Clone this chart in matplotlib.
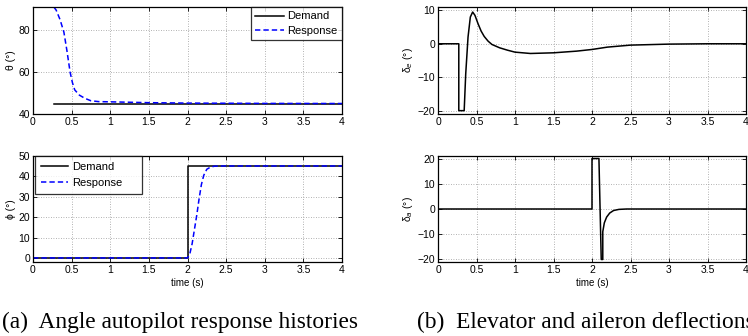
import matplotlib
matplotlib.use("Agg")
import matplotlib.pyplot as plt
import numpy as np

# ---------------- data ----------------
x_ticks = [0, 0.5, 1, 1.5, 2, 2.5, 3, 3.5, 4]
x_tick_labels = ["0", "0.5", "1", "1.5", "2", "2.5", "3", "3.5", "4"]

# (a) theta
theta_dem_t = [0.27, 4.0]
theta_dem = [45, 45]
theta_res_t = [0.27, 0.30, 0.35, 0.40, 0.44, 0.48, 0.51, 0.54, 0.60, 0.67, 0.75, 0.85, 1.0, 1.5, 2.0, 3.0, 4.0]
theta_res = [91, 89.5, 85, 79, 70, 60, 55, 51.5, 49, 47.5, 46.3, 45.9, 45.8, 45.4, 45.2, 45.05, 45.0]

# (a) phi
phi_dem_t = [0.0, 2.0, 2.0, 4.0]
phi_dem = [0, 0, 45, 45]
phi_res_t = [0.0, 2.0, 2.03, 2.06, 2.09, 2.12, 2.15, 2.18, 2.21, 2.25, 2.30, 2.35, 2.45, 3.0, 4.0]
phi_res = [0, 0, 2, 7, 14, 21, 29, 36, 40.5, 43.5, 44.6, 45.0, 45.1, 45.1, 45.1]

# (b) elevator
de_t = [0.0, 0.27, 0.27, 0.34, 0.36, 0.39, 0.42, 0.45, 0.48, 0.52, 0.56, 0.60, 0.65, 0.70, 0.80, 0.90, 1.0, 1.2, 1.5, 1.8, 2.0, 2.2, 2.5, 3.0, 3.5, 4.0]
de = [0, 0, -20, -20, -9, 2, 8, 9.5, 8.5, 6, 3.8, 2.2, 0.8, -0.2, -1.2, -1.9, -2.5, -2.9, -2.7, -2.2, -1.7, -1.0, -0.4, -0.1, 0.0, 0.0]

# (b) aileron
da_t = [0.0, 2.0, 2.0, 2.09, 2.12, 2.14, 2.14, 2.16, 2.19, 2.23, 2.28, 2.35, 2.45, 2.6, 4.0]
da = [0, 0, 20, 20, -20, -20, -9, -5.5, -3.2, -1.6, -0.6, -0.15, 0, 0, 0]

captions = ["(a)  Angle autopilot response histories", "(b)  Elevator and aileron deflections"]

# ---------------- figure ----------------
W, H = 748, 336
plt.rcParams['font.family'] = ['Liberation Sans', 'DejaVu Sans']
fig = plt.figure(figsize=(W / 100, H / 100), dpi=100)


def axes_px(left, right, top, bottom):
    return fig.add_axes([left / W, (H - bottom) / H, (right - left) / W, (bottom - top) / H])


def style(ax, ylim, yticks, ylabel, xlabel=None):
    ax.set_xlim(0, 4)
    ax.set_ylim(*ylim)
    ax.set_xticks(x_ticks)
    ax.set_xticklabels(x_tick_labels)
    ax.set_yticks(yticks)
    ax.tick_params(direction='in', length=3, width=0.6, labelsize=7.5, top=True, right=True, pad=2)
    ax.grid(True, linestyle=(0, (1, 2)), color='#999999', linewidth=0.6)
    for s in ax.spines.values():
        s.set_linewidth(0.9)
    ax.set_ylabel(ylabel, fontsize=7.5, labelpad=2)
    if xlabel:
        ax.set_xlabel(xlabel, fontsize=7, labelpad=2.5)


def frame(leg):
    leg.get_frame().set_edgecolor('black')
    leg.get_frame().set_linewidth(0.9)


dash = (0, (3.5, 2))

ax1 = axes_px(33, 342, 7, 114)
ax1.plot(theta_dem_t, theta_dem, color='black', lw=1.1, label='Demand')
ax1.plot(theta_res_t, theta_res, color='blue', lw=1.1, ls=dash, label='Response')
style(ax1, (40, 91), [40, 60, 80], 'θ (°)')
frame(ax1.legend(loc='upper right', fontsize=8, frameon=True, fancybox=False, borderaxespad=0.0,
                 handlelength=2.6, handletextpad=0.3, borderpad=0.4, labelspacing=0.4))

ax2 = axes_px(33, 342, 156, 262)
ax2.plot(phi_dem_t, phi_dem, color='black', lw=1.1, label='Demand')
ax2.plot(phi_res_t, phi_res, color='blue', lw=1.1, ls=dash, label='Response')
style(ax2, (-2, 50), [0, 10, 20, 30, 40, 50], 'ϕ (°)', 'time (s)')
frame(ax2.legend(loc='upper left', bbox_to_anchor=(2 / 309, 0, 107 / 309, 1.0), mode='expand',
                 fontsize=8, frameon=True, fancybox=False, borderaxespad=0.0,
                 handlelength=2.5, handletextpad=0.3, borderpad=0.5, labelspacing=0.6))

ax3 = axes_px(438, 746, 7, 114)
ax3.plot(de_t, de, color='black', lw=1.1)
style(ax3, (-21, 11), [-20, -10, 0, 10], 'δ$_e$ (°)')

ax4 = axes_px(438, 746, 156, 262)
ax4.plot(da_t, da, color='black', lw=1.1)
style(ax4, (-21, 21), [-20, -10, 0, 10, 20], 'δ$_a$ (°)', 'time (s)')

fig.text(2 / W, 1 - 328 / H, captions[0], family='Liberation Serif', fontsize=16.8, va='baseline', ha='left')
fig.text(417 / W, 1 - 328 / H, captions[1], family='Liberation Serif', fontsize=16.8, va='baseline', ha='left')

fig.savefig('out.png', dpi=100)
